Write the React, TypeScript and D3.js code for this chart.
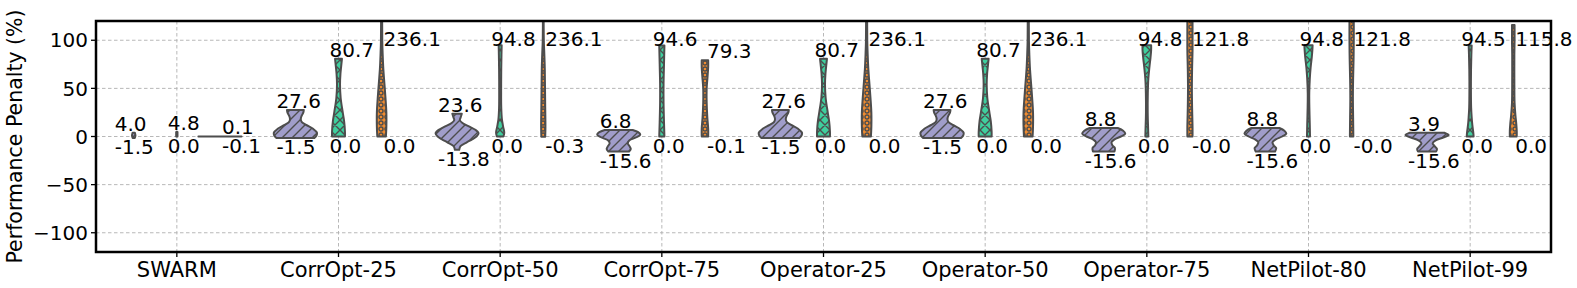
import React from 'react';
import * as d3 from 'd3';

// categories and tick labels
const categories = ['SWARM', 'CorrOpt-25', 'CorrOpt-50', 'CorrOpt-75', 'Operator-25', 'Operator-50', 'Operator-75', 'NetPilot-80', 'NetPilot-99'];
const yTicks = [-100, -50, 0, 50, 100];

// violin shapes: [value, relative half width]
const swarmPurple: [number, number][] = [[-1.5, 0.05], [1, 0.08], [4.0, 0.05]];
const swarmGreen: [number, number][] = [[0, 0.03], [4.8, 0.03]];
const swarmOrange: [number, number][] = [[-0.1, 1.0], [0.1, 1.0]];

const c25Purple: [number, number][] = [[-1.5, 0.88], [1, 0.98], [4, 1.0], [8, 0.82], [12, 0.5], [15, 0.3], [18, 0.25], [22, 0.3], [25, 0.37], [27.6, 0.39]];
const c25Green: [number, number][] = [[0, 0.3], [5, 0.3], [16, 0.26], [26, 0.19], [40, 0.1], [54, 0.07], [65, 0.09], [72, 0.12], [80.7, 0.16]];
const c25Orange: [number, number][] = [[0, 0.2], [10, 0.22], [25, 0.22], [40, 0.18], [55, 0.13], [70, 0.08], [85, 0.05], [100, 0.03], [150, 0.02], [200, 0.015], [236.1, 0.01]];

const c50Purple: [number, number][] = [[-13.8, 0.1], [-10, 0.16], [-6, 0.45], [-3, 0.7], [0, 0.9], [3.5, 1.0], [7, 0.85], [10, 0.6], [14, 0.25], [17, 0.13], [20, 0.17], [23.6, 0.22]];
const c50Green: [number, number][] = [[0, 0.15], [4, 0.19], [10, 0.14], [18, 0.08], [30, 0.05], [50, 0.045], [70, 0.05], [85, 0.06], [94.8, 0.07]];
const c50Orange: [number, number][] = [[-0.3, 0.09], [10, 0.1], [30, 0.09], [50, 0.08], [70, 0.07], [85, 0.05], [100, 0.025], [150, 0.015], [236.1, 0.01]];

const c75Purple: [number, number][] = [[-15.6, 0.48], [-13, 0.56], [-10, 0.5], [-7, 0.42], [-4, 0.5], [-1, 0.8], [2, 1.0], [4.5, 0.9], [6.8, 0.65]];
const c75Green: [number, number][] = [[0, 0.12], [15, 0.1], [35, 0.08], [55, 0.08], [75, 0.1], [94.6, 0.12]];
const c75Orange: [number, number][] = [[-0.1, 0.15], [8, 0.15], [20, 0.11], [35, 0.08], [50, 0.08], [62, 0.12], [72, 0.15], [79.3, 0.15]];

const o75Purple: [number, number][] = [[-15.6, 0.5], [-12, 0.52], [-9, 0.4], [-6, 0.36], [-3, 0.5], [0, 0.8], [3, 1.0], [6, 0.9], [8.8, 0.65]];
const o75Green: [number, number][] = [[0, 0.07], [8, 0.06], [25, 0.04], [45, 0.045], [60, 0.07], [72, 0.12], [82, 0.17], [90, 0.2], [94.8, 0.2]];
const o75Orange: [number, number][] = [[0, 0.12], [10, 0.12], [30, 0.1], [50, 0.09], [70, 0.1], [90, 0.12], [110, 0.12], [121.8, 0.12]];

const n80Purple: [number, number][] = [[-15.6, 0.45], [-12, 0.5], [-9, 0.38], [-6, 0.33], [-3, 0.48], [0, 0.78], [3, 0.97], [6, 0.88], [8.8, 0.65]];
const n80Green: [number, number][] = [[0, 0.07], [12, 0.06], [30, 0.04], [45, 0.035], [60, 0.06], [72, 0.1], [82, 0.15], [90, 0.18], [94.8, 0.19]];
const n80Orange: [number, number][] = [[0, 0.08], [20, 0.07], [40, 0.06], [60, 0.07], [80, 0.09], [100, 0.1], [121.8, 0.1]];

const n99Purple: [number, number][] = [[-15.6, 0.42], [-13, 0.46], [-10, 0.35], [-7, 0.26], [-4, 0.4], [-1, 0.75], [1.5, 1.0], [3.9, 0.8]];
const n99Green: [number, number][] = [[0, 0.16], [5, 0.14], [12, 0.1], [20, 0.07], [30, 0.045], [50, 0.035], [70, 0.04], [85, 0.055], [94.5, 0.07]];
const n99Orange: [number, number][] = [[0, 0.16], [6, 0.16], [13, 0.14], [22, 0.1], [35, 0.06], [60, 0.05], [85, 0.05], [100, 0.06], [115.8, 0.06]];

const purpleShapes = [swarmPurple, c25Purple, c50Purple, c75Purple, c25Purple, c25Purple, o75Purple, n80Purple, n99Purple];
const greenShapes = [swarmGreen, c25Green, c50Green, c75Green, c25Green, c25Green, o75Green, n80Green, n99Green];
const orangeShapes = [swarmOrange, c25Orange, c50Orange, c75Orange, c25Orange, c25Orange, o75Orange, n80Orange, n99Orange];

const purpleMax = ['4.0', '27.6', '23.6', '6.8', '27.6', '27.6', '8.8', '8.8', '3.9'];
const purpleMin = ['-1.5', '-1.5', '-13.8', '-15.6', '-1.5', '-1.5', '-15.6', '-15.6', '-15.6'];
const greenMax = ['4.8', '80.7', '94.8', '94.6', '80.7', '80.7', '94.8', '94.8', '94.5'];
const greenMin = ['0.0', '0.0', '0.0', '0.0', '0.0', '0.0', '0.0', '0.0', '0.0'];
const orangeMax = ['0.1', '236.1', '236.1', '79.3', '236.1', '236.1', '121.8', '121.8', '115.8'];
const orangeMin = ['-0.1', '0.0', '-0.3', '-0.1', '0.0', '0.0', '-0.0', '-0.0', '0.0'];

const W = 1577;
const H = 288;
const margin = { top: 21, right: 26, bottom: 36, left: 96 };
const EDGE = '#4d4d4d';
const FONT = 'DejaVu Sans, sans-serif';
const FS = 20;
const XFS = 21;

const series = [
  { shapes: purpleShapes, max: purpleMax, min: purpleMin, fill: '#a09dca', pattern: 'hatch-slash', labelDx: -19 },
  { shapes: greenShapes, max: greenMax, min: greenMin, fill: '#3fcf9e', pattern: 'hatch-cross', labelDx: -9 },
  { shapes: orangeShapes, max: orangeMax, min: orangeMin, fill: '#f08b2f', pattern: 'hatch-dots', labelDx: 2 },
];

const App = () => {
  const x = d3.scaleBand<string>().domain(categories).range([margin.left, W - margin.right]).padding(0);
  const y = d3.scaleLinear().domain([-120, 120]).range([H - margin.bottom, margin.top]);
  const bw = x.bandwidth();
  const dodge = (bw * 0.8) / 3;
  const halfW = d3.scaleLinear().domain([0, 1]).range([0, dodge / 2]);

  const makeArea = (cx: number) =>
    d3.area<[number, number]>()
      .y(d => y(d[0]))
      .x0(d => cx - halfW(d[1]))
      .x1(d => cx + halfW(d[1]))
      .curve(d3.curveCatmullRom.alpha(0.5));

  const x0 = margin.left;
  const x1 = W - margin.right;
  const yTop = margin.top;
  const yBot = H - margin.bottom;

  return (
    <>
      <style>{`body{margin:0}`}</style>
      <svg width={W} height={H} style={{ display: 'block', background: '#fff' }} fontFamily={FONT}>
        <defs>
          <clipPath id="plot-clip">
            <rect x={x0} y={yTop} width={x1 - x0} height={yBot - yTop} />
          </clipPath>
          <pattern id="hatch-slash" patternUnits="userSpaceOnUse" width={10} height={10}>
            <path d="M-2,2 L2,-2 M0,10 L10,0 M8,12 L12,8" stroke={EDGE} strokeWidth={1.4} />
          </pattern>
          <pattern id="hatch-cross" patternUnits="userSpaceOnUse" width={10} height={10}>
            <path d="M0,10 L10,0 M0,0 L10,10 M-2,2 L2,-2 M8,12 L12,8 M-2,8 L2,12 M8,-2 L12,2" stroke={EDGE} strokeWidth={1.4} />
          </pattern>
          <pattern id="hatch-dots" patternUnits="userSpaceOnUse" width={6} height={6}>
            <circle cx={3} cy={3} r={2} fill="none" stroke={EDGE} strokeWidth={1.4} />
          </pattern>
        </defs>

        {/* grid */}
        <g stroke="#b0b0b0" strokeWidth={0.9} strokeDasharray="3.5,2.5">
          {yTicks.map(t => (
            <line key={'gy' + t} x1={x0} x2={x1} y1={y(t)} y2={y(t)} />
          ))}
          {categories.map(c => (
            <line key={'gx' + c} x1={x(c)! + bw / 2} x2={x(c)! + bw / 2} y1={yTop} y2={yBot} />
          ))}
        </g>

        {/* violins */}
        <g clipPath="url(#plot-clip)">
          {series.map((s, si) =>
            categories.map((c, ci) => {
              const cx = x(c)! + bw / 2 + (si - 1) * dodge;
              const d = makeArea(cx)(s.shapes[ci]) || '';
              return (
                <g key={si + '-' + ci}>
                  <path d={d} fill={s.fill} />
                  <path d={d} fill={`url(#${s.pattern})`} />
                  <path d={d} fill="none" stroke={EDGE} strokeWidth={2} strokeLinejoin="round" />
                </g>
              );
            })
          )}
        </g>

        {/* value labels */}
        <g fontSize={FS} fill="#000">
          {series.map((s, si) =>
            categories.map((c, ci) => {
              const cx = x(c)! + bw / 2 + (si - 1) * dodge;
              const maxV = Math.min(parseFloat(s.max[ci]), 91.5);
              const minV = parseFloat(s.min[ci]);
              return (
                <g key={'l' + si + '-' + ci}>
                  <text x={cx + s.labelDx} y={y(maxV) - 2}>{s.max[ci]}</text>
                  <text x={cx + s.labelDx} y={y(minV) + 16.5}>{s.min[ci]}</text>
                </g>
              );
            })
          )}
        </g>

        {/* spines */}
        <rect x={x0} y={yTop} width={x1 - x0} height={yBot - yTop} fill="none" stroke="#000" strokeWidth={2.5} />

        {/* y axis */}
        <g fontSize={FS}>
          {yTicks.map(t => (
            <g key={'yt' + t}>
              <line x1={x0 - 5} x2={x0} y1={y(t)} y2={y(t)} stroke="#000" strokeWidth={1.3} />
              <text x={x0 - 8} y={y(t)} dy="0.36em" textAnchor="end">
                {t < 0 ? '\u2212' + Math.abs(t) : String(t)}
              </text>
            </g>
          ))}
        </g>

        {/* x axis */}
        <g fontSize={XFS}>
          {categories.map(c => (
            <g key={'xt' + c}>
              <line x1={x(c)! + bw / 2} x2={x(c)! + bw / 2} y1={yBot} y2={yBot + 5} stroke="#000" strokeWidth={1.3} />
              <text x={x(c)! + bw / 2} y={yBot + 25} textAnchor="middle">{c}</text>
            </g>
          ))}
        </g>

        <text
          transform={`translate(22,${(yTop + yBot) / 2}) rotate(-90)`}
          textAnchor="middle"
          fontSize={20.5}
        >
          Performance Penalty (%)
        </text>
      </svg>
    </>
  );
};

export default App;
